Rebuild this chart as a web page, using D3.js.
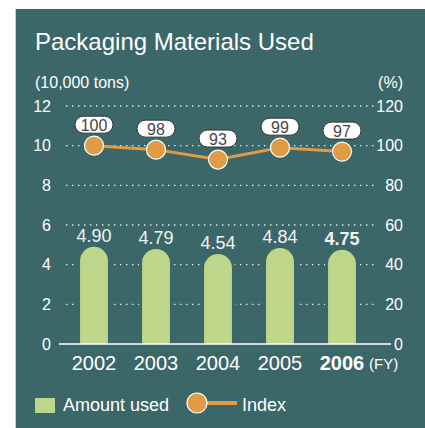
<!DOCTYPE html>
<html><head><meta charset="utf-8">
<script src="https://cdn.jsdelivr.net/npm/d3@7"></script>
<style>
html,body{margin:0;padding:0;background:#fff;}
svg{display:block;font-family:"Liberation Sans",Arial,Helvetica,sans-serif;}
</style></head>
<body>
<svg id="c" width="425" height="428"></svg>
<script>
const years = ["2002","2003","2004","2005","2006"];
const amountUsed = [4.90, 4.79, 4.54, 4.84, 4.75];
const indexValues = [100, 98, 93, 99, 97];
const leftTicks = [0,2,4,6,8,10,12];
const rightTicks = [0,20,40,60,80,100,120];

const bg = "#3c6769";
const green = "#bdd68a";
const orange = "#e09c45";

const svg = d3.select("#c");
svg.append("rect").attr("x",16).attr("y",9).attr("width",409).attr("height",419).attr("fill",bg);
svg.append("line").attr("x1",15.5).attr("x2",15.5).attr("y1",9).attr("y2",428).attr("stroke","#ccc").attr("stroke-width",1);

svg.append("text").attr("x",35).attr("y",50).attr("fill","#fff").attr("font-size",24).text("Packaging Materials Used");
svg.append("text").attr("x",35).attr("y",88).attr("fill","#fff").attr("font-size",16).text("(10,000 tons)");
svg.append("text").attr("x",403).attr("y",88).attr("fill","#fff").attr("font-size",16).attr("text-anchor","end").text("(%)");

const y = d3.scaleLinear().domain([0,12]).range([344,106]);
const yR = d3.scaleLinear().domain([0,120]).range([344,106]);
const x = d3.scaleBand().domain(years).range([63,373]).paddingInner(0.55).paddingOuter(0.275);

// gridlines
const g = svg.append("g");
g.selectAll("line.grid").data(leftTicks.filter(d=>d>0)).join("line")
  .attr("x1",66).attr("x2",374).attr("y1",d=>y(d)).attr("y2",d=>y(d))
  .attr("stroke","#e8eeee").attr("stroke-width",1.4).attr("stroke-dasharray","1.4,4.6").attr("stroke-linecap","butt");

// axes labels
const leftAxis = d3.axisLeft(y).tickValues(leftTicks).tickSize(0).tickPadding(0);
const la = svg.append("g").attr("transform","translate(51,0)").call(leftAxis);
la.select(".domain").remove();
la.selectAll("text").attr("fill","#fff").attr("font-size",16).attr("font-family","Liberation Sans, Arial, sans-serif");
const rightAxis = d3.axisRight(yR).tickValues(rightTicks).tickSize(0).tickPadding(0);
const ra = svg.append("g").attr("transform","translate(403,0)").call(rightAxis);
ra.select(".domain").remove();
ra.selectAll("text").attr("fill","#fff").attr("font-size",16).attr("text-anchor","end").attr("font-family","Liberation Sans, Arial, sans-serif");

// bars
function barPath(x0,w,top,bottom){
  const r = w/2;
  return `M${x0},${bottom}L${x0},${top+r}A${r},${r} 0 0 1 ${x0+w},${top+r}L${x0+w},${bottom}Z`;
}
const bw = x.bandwidth();
svg.selectAll("path.under").data(years).join("path")
  .attr("d",(d,i)=>barPath(x(d)-3,bw+6,y(amountUsed[i])-3,344)).attr("fill",bg);
svg.selectAll("path.bar").data(years).join("path")
  .attr("d",(d,i)=>barPath(x(d),bw,y(amountUsed[i]),344)).attr("fill",green);

// baseline
svg.append("line").attr("x1",59).attr("x2",391).attr("y1",344).attr("y2",344).attr("stroke","#fff").attr("stroke-width",1.3);

// bar labels
svg.selectAll("text.val").data(years).join("text")
  .attr("x",d=>x(d)+bw/2).attr("y",(d,i)=>y(amountUsed[i])-5)
  .attr("text-anchor","middle").attr("fill","#f2f2f2").attr("font-size",18)
  .attr("font-weight",(d,i)=>i===4?"bold":"normal")
  .text((d,i)=>amountUsed[i].toFixed(2));

// x labels
svg.selectAll("text.yr").data(years).join("text")
  .attr("x",d=>x(d)+bw/2).attr("y",370).attr("text-anchor","middle").attr("fill","#fff").attr("font-size",20)
  .attr("font-weight",(d,i)=>i===4?"bold":"normal").text(d=>d);
svg.append("text").attr("x",369).attr("y",369).attr("fill","#fff").attr("font-size",15).text("(FY)");

// line
const line = d3.line().x((d,i)=>x(years[i])+bw/2).y(d=>yR(d));
svg.append("path").attr("d",line(indexValues)).attr("fill","none").attr("stroke",orange).attr("stroke-width",3);
svg.selectAll("circle.pt").data(indexValues).join("circle")
  .attr("cx",(d,i)=>x(years[i])+bw/2).attr("cy",d=>yR(d)).attr("r",9.5)
  .attr("fill",orange).attr("stroke","#fff").attr("stroke-width",1.2);

// index labels
const lb = svg.selectAll("g.lbl").data(indexValues).join("g")
  .attr("transform",(d,i)=>`translate(${x(years[i])+bw/2},${yR(d)-21})`);
lb.append("rect").attr("x",-19).attr("y",-8.5).attr("width",38).attr("height",17).attr("rx",8.5)
  .attr("fill","#fff").attr("stroke","#333").attr("stroke-width",1);
lb.append("text").attr("y",6).attr("text-anchor","middle").attr("fill","#444").attr("font-size",16).text(d=>d);

// legend
svg.append("rect").attr("x",35).attr("y",398).attr("width",20).attr("height",15).attr("fill",green);
svg.append("text").attr("x",63).attr("y",411).attr("fill","#fff").attr("font-size",18).text("Amount used");
svg.append("line").attr("x1",197).attr("x2",237).attr("y1",403).attr("y2",403).attr("stroke",orange).attr("stroke-width",4);
svg.append("circle").attr("cx",197).attr("cy",403).attr("r",10).attr("fill",orange).attr("stroke","#fff").attr("stroke-width",1.2);
svg.append("text").attr("x",242).attr("y",411).attr("fill","#fff").attr("font-size",18).text("Index");
</script>
</body></html>
